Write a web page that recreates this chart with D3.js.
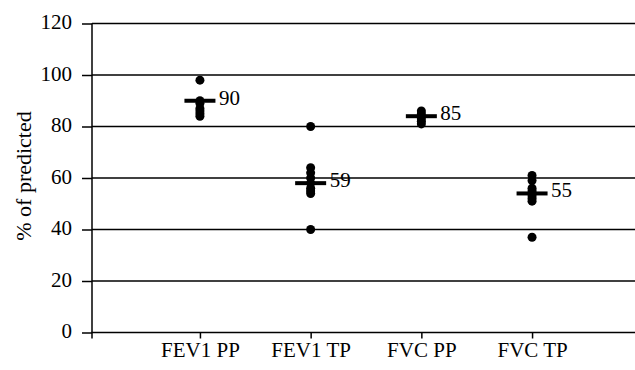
<!DOCTYPE html>
<html><head><meta charset="utf-8">
<script src="https://cdn.jsdelivr.net/npm/d3@7"></script>
<style>body{margin:0;background:#fff}svg{display:block}svg text{font-family:"Liberation Serif","Times New Roman",serif}</style>
</head><body>
<script>
const categories = ["FEV1 PP", "FEV1 TP", "FVC PP", "FVC TP"];
const fev1PP = [98, 90, 89, 87, 86, 85, 84];
const fev1TP = [80, 64, 62, 60, 58, 56, 55, 54, 40];
const fvcPP = [86, 85, 84, 83, 82, 81];
const fvcTP = [61, 59, 56, 55, 54, 53, 52, 51, 37];
const meanValues = [90, 58, 84, 54];
const meanLabels = ["90", "59", "85", "55"];
const yTicks = [0, 20, 40, 60, 80, 100, 120];
const series = [fev1PP, fev1TP, fvcPP, fvcTP];

const W = 635, H = 370;
const svg = d3.select("body").append("svg").attr("width", W).attr("height", H);

const y = d3.scaleLinear().domain([0, 120]).range([332.5, 23.5]);
const x = d3.scalePoint().domain(categories).range([92, 640]).padding(0.975);

// gridlines
svg.append("g").selectAll("line").data(yTicks.filter(d => d > 0)).join("line")
  .attr("x1", 92).attr("x2", W).attr("y1", d => y(d)).attr("y2", d => y(d))
  .attr("stroke", "#000").attr("stroke-width", 1.5);

// y axis
const ya = svg.append("g").attr("transform", "translate(92,0)").attr("font-family", null)
  .call(d3.axisLeft(y).tickValues(yTicks).tickSize(10).tickPadding(10));
ya.attr("font-family", null);
ya.selectAll("path,line").attr("stroke", "#000").attr("stroke-width", 1.5);
ya.select(".domain").attr("d", `M0,${y(0)}V${y(120)}`);
ya.selectAll("text").attr("font-size", 21).attr("fill", "#000").attr("dy", "0.25em");

// x axis
const xa = svg.append("g").attr("transform", `translate(0,${y(0)})`)
  .call(d3.axisBottom(x).tickSize(6).tickPadding(4));
xa.attr("font-family", null);
xa.select(".domain").attr("d", `M92,6V0H${W}`).attr("stroke", "#000").attr("stroke-width", 1.5);
xa.selectAll("line").attr("stroke", "#000").attr("stroke-width", 1.5);
xa.selectAll("text").attr("font-size", 21).attr("fill", "#000");

// y title
svg.append("text").attr("transform", `translate(31,176) rotate(-90)`)
  .attr("text-anchor", "middle").attr("font-size", 22)
  .text("% of predicted");

// dots
categories.forEach((c, i) => {
  svg.append("g").selectAll("circle").data(series[i]).join("circle")
    .attr("cx", x(c)).attr("cy", d => y(d)).attr("r", 4.5).attr("fill", "#000");
});

// mean bars & labels
svg.append("g").selectAll("rect").data(categories).join("rect")
  .attr("x", c => x(c) - 15.5).attr("width", 31)
  .attr("y", (c, i) => y(meanValues[i]) - 2).attr("height", 4).attr("fill", "#000");
svg.append("g").selectAll("text").data(categories).join("text")
  .attr("x", c => x(c) + 19).attr("y", (c, i) => y(meanValues[i]) + 4)
  .attr("font-size", 21).text((c, i) => meanLabels[i]);
</script>
</body></html>
